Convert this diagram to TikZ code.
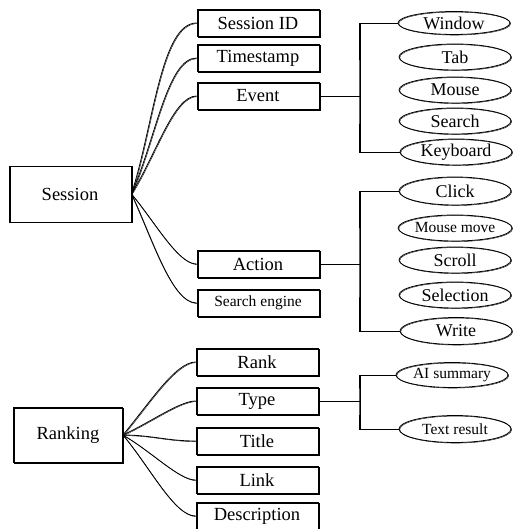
\documentclass[tikz,border=0pt]{standalone}
\usepackage{fontspec}
\setmainfont{Liberation Serif}
\usetikzlibrary{shapes.geometric}
\begin{document}
\begin{tikzpicture}[x=1pt,y=-1pt,
  ink/.style={line width=0.8pt, black},
  sk/.style={ink, postaction={draw, line width=0.4pt, transform canvas={shift={(0.7pt,-0.6pt)}}}},
  box/.style={sk, draw, rectangle, minimum width=122pt, minimum height=27pt, inner sep=0pt, font=\fontsize{18.5}{20}\selectfont},
  bigbox/.style={box, minimum height=56pt},
  oval/.style={sk, draw, ellipse, minimum width=112pt, minimum height=26pt, inner sep=0pt, font=\fontsize{18}{19}\selectfont},
  small/.style={font=\fontsize{15.5}{17}\selectfont},
  edge/.style={sk}
]
\useasboundingbox (0,0) rectangle (512,529);

% Session tree
\node[bigbox] (session) at (70,194) {Session};
\node[box] (sid) at (258,23) {Session ID};
\node[box] (ts) at (258,58) {Timestamp};
\node[box] (event) at (258,96) {Event};
\node[box] (action) at (258,264) {Action};
\node[box, small] (se) at (258,303) {Search engine};

\draw[edge] (session.east) to[out=72,in=180,in looseness=0.5] (sid.west);
\draw[edge] (session.east) to[out=66,in=180,in looseness=0.5] (ts.west);
\draw[edge] (session.east) to[out=58,in=180,in looseness=0.5] (event.west);
\draw[edge] (session.east) to[out=-50,in=180,in looseness=0.5] (action.west);
\draw[edge] (session.east) to[out=-65,in=180,in looseness=0.5] (se.west);

% Event values
\node[oval, minimum height=23pt] (window) at (454,23) {Window};
\node[oval] (tab) at (455,57) {Tab};
\node[oval] (mouse) at (455,90) {Mouse};
\node[oval] (search) at (455,121) {Search};
\node[oval] (keyboard) at (456,152) {Keyboard};
\coordinate (ej) at (359,96);
\draw[edge] (event.east) -- (ej);
\draw[edge] (window.west) -| (ej) |- (keyboard.west);

% Action values
\node[oval, minimum height=28pt] (click) at (455,191) {Click};
\node[oval, small, minimum width=104pt] (mmove) at (455,228) {Mouse move};
\node[oval] (scroll) at (455,260) {Scroll};
\node[oval] (selection) at (455,295) {Selection};
\node[oval, minimum height=27pt] (write) at (456,331) {Write};
\coordinate (aj) at (359,264);
\draw[edge] (action.east) -- (aj);
\draw[edge] (click.west) -| (aj) |- (write.west);

% Ranking tree
\node[box, minimum width=109pt, minimum height=55pt] (ranking) at (68,435) {Ranking};
\node[box] (rank) at (257,362) {Rank};
\node[box] (type) at (257,401) {Type};
\node[box] (title) at (257,441) {Title};
\node[box] (link) at (257,480) {Link};
\node[box] (desc) at (257,516) {Description};

\draw[edge] (ranking.east) to[out=50,in=180,in looseness=0.5] (rank.west);
\draw[edge] (ranking.east) to[out=25,in=180,in looseness=0.5] (type.west);
\draw[edge] (ranking.east) to[out=0,in=180] (title.west);
\draw[edge] (ranking.east) to[out=-30,in=180,in looseness=0.5] (link.west);
\draw[edge] (ranking.east) to[out=-50,in=180,in looseness=0.5] (desc.west);

% Type values
\node[oval, small, minimum height=25pt] (ai) at (452,375) {AI summary};
\node[oval, small, minimum height=27pt] (text) at (455,429) {Text result};
\coordinate (tj) at (359,401);
\draw[edge] (type.east) -- (tj);
\draw[edge] (ai.west) -| (tj) |- (text.west);
\end{tikzpicture}
\end{document}
